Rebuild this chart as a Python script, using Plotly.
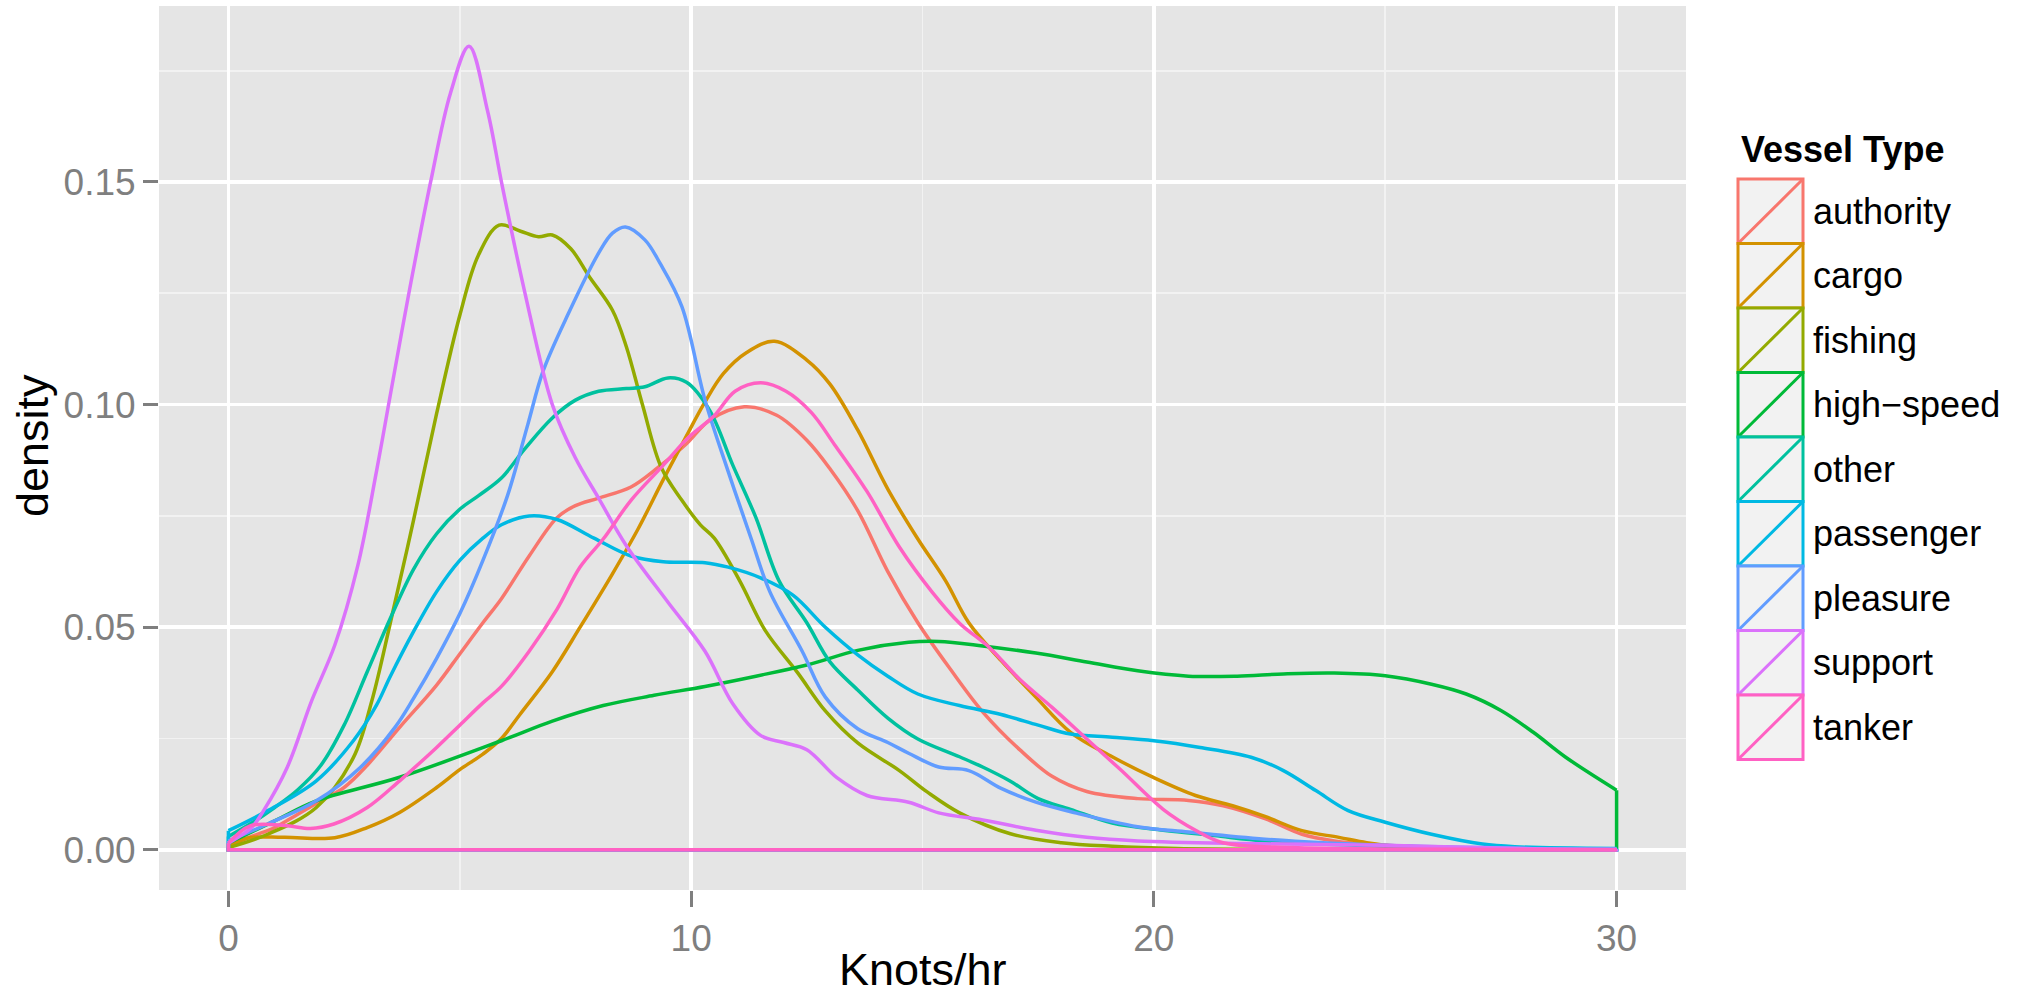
import plotly.graph_objects as go

# ---------------- data ----------------
categories = ["authority", "cargo", "fishing", "high\u2212speed", "other",
              "passenger", "pleasure", "support", "tanker"]
colors = ["#F8766D", "#D39200", "#93AA00", "#00BA38", "#00C19F",
          "#00B9E3", "#619CFF", "#DB72FB", "#FF61C3"]

authority_x = [0, 0.5, 1, 1.5, 2, 2.5, 3, 3.7, 4.5, 5, 5.5, 5.9, 6.5, 7.1, 7.5, 8.0, 8.7, 9.3, 9.9,
               10.4, 11.15, 11.85, 12.5, 13.0, 13.6, 14.25, 14.9, 15.6, 16.3, 17.1, 17.8, 18.55,
               19.65, 20.75, 21.5, 22.4, 23.2, 23.9, 24.6, 26, 28, 30]
authority_y = [0.0008, 0.003, 0.005, 0.008, 0.011, 0.014, 0.019, 0.0275, 0.037, 0.044, 0.051, 0.0564,
               0.066, 0.0746, 0.0773, 0.079, 0.0815, 0.086, 0.0912, 0.0965, 0.0995, 0.0976, 0.092,
               0.0856, 0.0762, 0.0625, 0.051, 0.0406, 0.031, 0.0225, 0.0165, 0.0131, 0.0115, 0.0111,
               0.0099, 0.007, 0.0035, 0.002, 0.0013, 0.0005, 0.0001, 0.0]

cargo_x = [0, 0.4, 1.2, 2.3, 3.0, 3.7, 4.5, 5.0, 5.5, 5.9, 6.3, 7.0, 7.6, 8.3, 8.85, 9.4, 9.85, 10.3,
           10.7, 11.2, 11.8, 12.5, 13.0, 13.6, 14.25, 14.9, 15.5, 16.0, 16.7, 17.45, 18.2, 19.1, 20.0,
           20.9, 21.7, 22.4, 23.2, 24.0, 24.6, 25.3, 27, 30]
cargo_y = [0.0005, 0.0026, 0.0028, 0.0027, 0.005, 0.0084, 0.014, 0.018, 0.0215, 0.025, 0.0304, 0.040,
           0.050, 0.062, 0.072, 0.0832, 0.092, 0.1006, 0.107, 0.1117, 0.1142, 0.110, 0.1046, 0.0943,
           0.081, 0.0698, 0.0604, 0.051, 0.0425, 0.0343, 0.0264, 0.0209, 0.0162, 0.0122, 0.0099,
           0.0075, 0.0043, 0.0028, 0.0016, 0.0007, 0.0002, 0.0]

fishing_x = [0, 0.85, 1.9, 2.7, 3.1, 3.5, 4.0, 4.5, 5.0, 5.4, 5.85, 6.3, 6.7, 7.0, 7.4, 7.8, 8.3,
             8.6, 8.95, 9.35, 9.8, 10.2, 10.5, 11.05, 11.6, 12.3, 12.9, 13.6, 14.5, 15.1, 15.8, 16.9,
             18.0, 19.1, 20.5, 23, 30]
fishing_y = [0.0005, 0.0035, 0.0095, 0.0207, 0.0335, 0.051, 0.074, 0.098, 0.12, 0.1335,
             0.1403, 0.139, 0.1377, 0.1381, 0.135, 0.1287, 0.1212, 0.113, 0.0999, 0.086, 0.0785,
             0.073, 0.070, 0.0604, 0.0493, 0.0398, 0.0312, 0.024, 0.0178, 0.013, 0.0083, 0.0036,
             0.0016, 0.0008, 0.0003, 0.0001, 0.0]

highspeed_x = [0, 1, 1.9, 3.7, 5.9, 7.0, 8.1, 9.2, 10.3, 11.4, 12.5, 13.6, 14.7, 15.35, 16.3, 17.45,
               18.55, 19.65, 20.75, 21.8, 22.8, 23.9, 25.0, 26.0, 26.75, 27.5, 28.2, 28.9, 30]
highspeed_y = [0.0015, 0.0065, 0.011, 0.0163, 0.0245, 0.0289, 0.0324, 0.0347, 0.0367, 0.039, 0.0415,
               0.0448, 0.0466, 0.0468, 0.0458, 0.0442, 0.0422, 0.0402, 0.039, 0.039, 0.0395, 0.0397,
               0.0391, 0.0372, 0.035, 0.0313, 0.0264, 0.0208, 0.0134]

other_x = [0, 0.5, 1, 1.5, 2.0, 2.5, 3.0, 3.5, 4.0, 4.5, 5.0, 5.4, 5.9, 6.4, 7.0, 7.5, 8.0, 8.6, 9.0,
           9.5, 9.9, 10.4, 10.9, 11.4, 11.9, 12.5, 13.0, 13.6, 14.25, 14.9, 15.8, 16.3, 16.9, 17.5,
           18.2, 19.1, 20.2, 21.3, 22.4, 25, 30]
other_y = [0.003, 0.006, 0.0095, 0.0135, 0.019, 0.028, 0.040, 0.052, 0.063, 0.071, 0.0765, 0.0795,
           0.0835, 0.09, 0.097, 0.101, 0.103, 0.1036, 0.104, 0.106, 0.105, 0.0987, 0.0864, 0.0746,
           0.0604, 0.051, 0.0422, 0.0359, 0.0296, 0.0249, 0.0209, 0.0186, 0.0154, 0.0115, 0.0091,
           0.006, 0.0044, 0.0032, 0.002, 0.0008, 0.0001]

passenger_x = [0, 0.85, 1.9, 2.7, 3.2, 3.5, 4.0, 4.5, 5.0, 5.5, 5.9, 6.5, 7.1, 7.9, 8.7, 9.4, 10.3,
               10.8, 11.5, 12.2, 12.9, 13.6, 14.25, 14.9, 15.8, 16.7, 17.5, 18.2, 19.1, 20.0, 21.0,
               22.1, 22.8, 23.5, 24.2, 25.0, 26.0, 27.1, 27.8, 30]
passenger_y = [0.0043, 0.0088, 0.0155, 0.0245, 0.0325, 0.039, 0.049, 0.058, 0.065, 0.0700, 0.073,
               0.075, 0.0742, 0.070, 0.066, 0.0647, 0.0645, 0.0635, 0.0611, 0.0572, 0.050, 0.0438,
               0.039, 0.035, 0.0324, 0.0304, 0.028, 0.026, 0.0253, 0.0245, 0.023, 0.0208, 0.0178,
               0.0133, 0.0088, 0.0062, 0.0035, 0.0013, 0.0007, 0.0003]

pleasure_x = [0, 0.85, 1.9, 2.85, 3.6, 4.0, 4.5, 5.0, 5.5, 6.03, 6.47, 6.8, 7.35, 8.0, 8.3, 8.58, 9.0,
              9.33, 9.8, 10.3, 10.8, 11.3, 11.7, 12.4, 12.9, 13.6, 14.25, 14.7, 15.35, 16.0, 16.7,
              17.45, 18.3, 19.65, 20.75, 22.4, 25, 28, 30]
pleasure_y = [0.002, 0.0058, 0.011, 0.0185, 0.0275, 0.034, 0.043, 0.053, 0.065, 0.0795, 0.0955,
              0.1075, 0.1205, 0.134, 0.1385, 0.1399, 0.137, 0.1317, 0.122, 0.101, 0.085, 0.0698,
              0.058, 0.0446, 0.0343, 0.0272, 0.0241, 0.0217, 0.0186, 0.0178, 0.0138, 0.0107, 0.0083,
              0.0052, 0.004, 0.0024, 0.001, 0.0003, 0.0001]

support_x = [0, 0.5, 0.76, 1.27, 1.8, 2.3, 2.8, 3.2, 3.46, 3.9, 4.37, 4.8, 5.2, 5.6, 5.92, 6.41, 7.0,
             7.5, 8.0, 8.6, 9.5, 10.3, 10.9, 11.5, 12.0, 12.5, 13.15, 13.8, 14.7, 15.35, 16.3, 17.45,
             18.55, 19.65, 22, 25, 28, 30]
support_y = [0.0015, 0.005, 0.0088, 0.0185, 0.0335, 0.046, 0.064, 0.085, 0.0999, 0.125, 0.15,
             0.170, 0.1805, 0.166, 0.149, 0.125, 0.1, 0.088, 0.079, 0.0683, 0.0556, 0.0446, 0.0328,
             0.0257, 0.0241, 0.0225, 0.0162, 0.0122, 0.0107, 0.0083, 0.0067, 0.0044, 0.0028, 0.002,
             0.0014, 0.001, 0.0003, 0.0001]

tanker_x = [0, 0.47, 1.27, 1.77, 2.28, 3.0, 3.7, 4.5, 5.0, 5.5, 5.9, 6.5, 7.1, 7.6, 8.1, 8.7, 9.4,
            9.95, 10.5, 10.95, 11.5, 12.05, 12.6, 13.1, 13.8, 14.5, 15.2, 15.8, 16.45, 17.1, 17.8,
            18.55, 19.3, 20.2, 20.9, 21.5, 23, 25, 30]
tanker_y = [0.0015, 0.0054, 0.0054, 0.0048, 0.0058, 0.0095, 0.0155, 0.023, 0.028, 0.033, 0.0367,
            0.0446, 0.054, 0.0635, 0.0698, 0.0785, 0.0864, 0.0927, 0.0975, 0.103, 0.1049, 0.103,
            0.0982, 0.091, 0.0805, 0.068, 0.058, 0.0509, 0.0454, 0.0383, 0.032, 0.0249, 0.0178,
            0.0091, 0.0044, 0.0016, 0.0005, 0.0002, 0.0]

series_x = [authority_x, cargo_x, fishing_x, highspeed_x, other_x,
            passenger_x, pleasure_x, support_x, tanker_x]
series_y = [authority_y, cargo_y, fishing_y, highspeed_y, other_y,
            passenger_y, pleasure_y, support_y, tanker_y]

x_ticks = [0, 10, 20, 30]
y_ticks = [0.00, 0.05, 0.10, 0.15]

# ---------------- layout geometry (pixels) ----------------
W, H = 2027, 996
L, R, T, B = 159, 1686, 6, 890
FONT = "Liberation Sans, Arial, Helvetica, sans-serif"


def paper_x(p):
    return (p - L) / (R - L)


def paper_y(p):
    return (B - p) / (B - T)


fig = go.Figure()

for name, col, xs, ys in zip(categories, colors, series_x, series_y):
    # density curve
    fig.add_trace(go.Scatter(x=xs, y=ys, mode="lines", name=name,
                             line=dict(color=col, width=3.5, shape="spline", smoothing=1.0),
                             showlegend=False, hoverinfo="skip"))
    # polygon closing outline (down to the baseline and back)
    fig.add_trace(go.Scatter(x=[xs[-1], xs[-1], xs[0], xs[0]],
                             y=[ys[-1], 0, 0, ys[0]], mode="lines",
                             line=dict(color=col, width=3.5), showlegend=False,
                             hoverinfo="skip"))

x_span = x_ticks[-1] - x_ticks[0]
y_max = max(max(v) for v in series_y)

fig.update_layout(
    width=W, height=H,
    margin=dict(l=L, r=W - R, t=T, b=H - B, autoexpand=False),
    paper_bgcolor="white", plot_bgcolor="#E5E5E5",
    template="none",
    showlegend=False,
    font=dict(family=FONT),
)

fig.update_xaxes(
    range=[x_ticks[0] - 0.05 * x_span, x_ticks[-1] + 0.05 * x_span],
    tickvals=x_ticks, ticktext=[str(v) for v in x_ticks],
    ticks="outside", ticklen=16, tickwidth=3, tickcolor="#7F7F7F",
    tickfont=dict(size=37, color="#7F7F7F", family=FONT),
    showgrid=True, gridcolor="white", gridwidth=3.5,
    minor=dict(dtick=5, tick0=0, showgrid=True, gridcolor="#F2F2F2", gridwidth=1.8, ticks=""),
    zeroline=False, showline=False, automargin=False,
)
fig.update_yaxes(
    range=[-0.05 * y_max, y_max * 1.05],
    tickvals=y_ticks, ticktext=["%.2f" % v for v in y_ticks],
    ticks="outside", ticklen=15, tickwidth=3, tickcolor="#7F7F7F",
    tickfont=dict(size=37, color="#7F7F7F", family=FONT),
    showgrid=True, gridcolor="white", gridwidth=3.5,
    minor=dict(dtick=0.025, tick0=0, showgrid=True, gridcolor="#F2F2F2", gridwidth=1.8, ticks=""),
    zeroline=False, showline=False, automargin=False,
)

annotations = [
    dict(text="Knots/hr", x=0.5, y=paper_y(970), xref="paper", yref="paper",
         xanchor="center", yanchor="middle", showarrow=False,
         font=dict(size=45, color="black", family=FONT)),
    dict(text="density", x=paper_x(32), y=paper_y(446), xref="paper", yref="paper",
         xanchor="center", yanchor="middle", showarrow=False, textangle=-90,
         font=dict(size=45, color="black", family=FONT)),
    dict(text="<b>Vessel Type</b>", x=paper_x(1739), y=paper_y(150), xref="paper", yref="paper",
         xanchor="left", yanchor="middle", showarrow=False,
         font=dict(size=36, color="black", family=FONT)),
]

shapes = []
kx0, kx1 = 1738, 1803
ky0, kh = 179, 64.5
for i, (name, col) in enumerate(zip(categories, colors)):
    top = ky0 + kh * i
    bot = top + kh
    shapes.append(dict(type="rect", xref="paper", yref="paper",
                       x0=paper_x(kx0), x1=paper_x(kx1), y0=paper_y(bot), y1=paper_y(top),
                       fillcolor="#F2F2F2", line=dict(color=col, width=3)))
    shapes.append(dict(type="line", xref="paper", yref="paper",
                       x0=paper_x(kx0), y0=paper_y(bot), x1=paper_x(kx1), y1=paper_y(top),
                       line=dict(color=col, width=3)))
    annotations.append(dict(text=name, x=paper_x(1811), y=paper_y(top + kh / 2),
                            xref="paper", yref="paper", xanchor="left", yanchor="middle",
                            showarrow=False, font=dict(size=36, color="black", family=FONT)))

fig.update_layout(shapes=shapes, annotations=annotations)

fig.write_html("out.html",
               config={"displayModeBar": False, "staticPlot": True},
               post_script="document.body.style.margin='0px';"
                           "document.body.style.overflow='hidden';")
